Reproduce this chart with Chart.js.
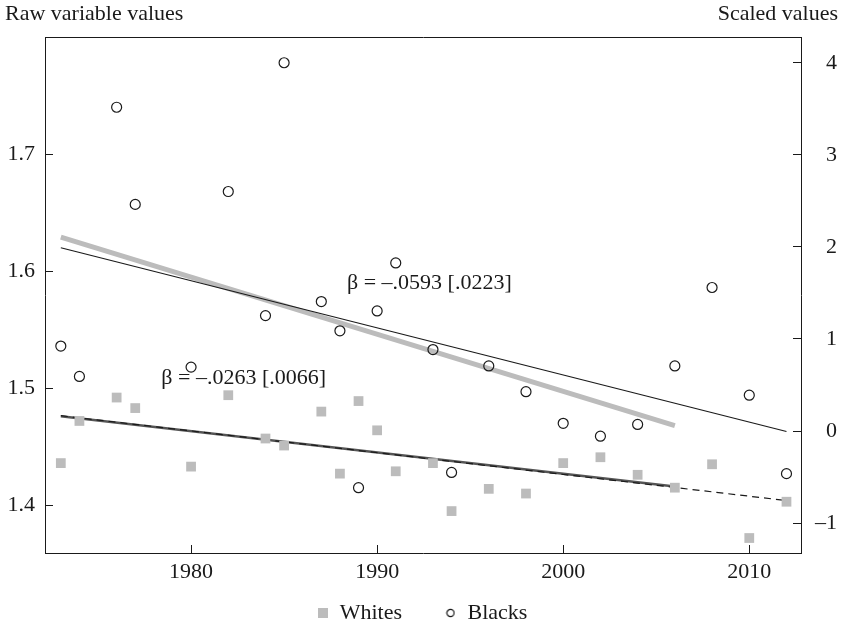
<!DOCTYPE html>
<html>
<head>
<meta charset="utf-8">
<title>Raw variable values</title>
<script src="https://cdn.jsdelivr.net/npm/chart.js@4.4.1/dist/chart.umd.min.js"></script>
<style>
  body { margin: 0; background: #fff; }
  canvas { display: block; }
</style>
</head>
<body>
<canvas id="chart" width="843" height="625"></canvas>
<script>
'use strict';

// survey years, same for both groups
var surveyYears = [1973, 1974, 1976, 1977, 1980, 1982, 1984, 1985, 1987, 1988, 1989, 1990,
    1991, 1993, 1994, 1996, 1998, 2000, 2002, 2004, 2006, 2008, 2010, 2012];
var whiteValues = [1.436, 1.472, 1.492, 1.483, 1.433, 1.494, 1.457, 1.451, 1.480, 1.427, 1.489, 1.464,
    1.429, 1.436, 1.395, 1.414, 1.410, 1.436, 1.441, 1.426, 1.415, 1.435, 1.372, 1.403];
var blackValues = [1.536, 1.510, 1.740, 1.657, 1.518, 1.668, 1.562, 1.778, 1.574, 1.549, 1.415, 1.566,
    1.607, 1.533, 1.428, 1.519, 1.497, 1.470, 1.459, 1.469, 1.519, 1.586, 1.494, 1.427];

// fitted lines (end points)
var shortFitYears = [1973, 2006];
var fullFitYears = [1973, 2012];
var blackFitShort = [1.629, 1.468];
var blackFitFull = [1.620, 1.463];
var whiteFitShort = [1.476, 1.416];
var whiteFitFull = [1.4765, 1.404];

var seriesNames = ['Whites', 'Blacks'];
var betaLabels = ['β = –.0263 [.0066]', 'β = –.0593 [.0223]'];

var yearTicks = [1980, 1990, 2000, 2010];
var rawTicks = [1.4, 1.5, 1.6, 1.7];
var scaledTicks = [-1, 0, 1, 2, 3, 4];

var FONT = '"Liberation Serif", "Times New Roman", serif';
var INK = '#1a1a1a';
var LIGHT = '#bcbcbc';

function pts(xs, ys) {
    return xs.map(function (x, i) { return { x: x, y: ys[i] }; });
}

function fixedTicks(list) {
    return function (scale) {
        scale.ticks = list.map(function (v) { return { value: v }; });
    };
}

function fitLine(xs, ys, color, width, dash) {
    return {
        type: 'line',
        data: pts(xs, ys),
        borderColor: color,
        borderWidth: width,
        borderDash: dash || [],
        pointRadius: 0,
        fill: false,
        yAxisID: 'y'
    };
}

// legend icons (different sizes for square and circle)
function makeIcon(kind) {
    var c = document.createElement('canvas');
    c.width = 10;
    c.height = 10;
    var g = c.getContext('2d');
    if (kind === 'rect') {
        g.fillStyle = LIGHT;
        g.fillRect(0, 0, 10, 10);
    } else {
        g.strokeStyle = INK;
        g.lineWidth = 1.2;
        g.beginPath();
        g.arc(5, 5, 3.6, 0, Math.PI * 2);
        g.stroke();
    }
    return c;
}
var legendIcons = [makeIcon('rect'), makeIcon('circle')];

var axisGrid = { drawOnChartArea: false, tickLength: -8, color: INK, tickWidth: 1 };
var axisBorder = { display: true, color: INK, width: 1 };
var tickFont = { family: FONT, size: 22 };

var textPlugin = {
    id: 'texts',
    afterDatasetsDraw: function (chart) {
        var ctx = chart.ctx;
        var x = chart.scales.x, y = chart.scales.y;
        ctx.save();
        ctx.font = '22px ' + FONT;
        ctx.fillStyle = INK;
        ctx.textBaseline = 'middle';
        ctx.textAlign = 'left';
        ctx.fillText(betaLabels[0], x.getPixelForValue(1978.4), y.getPixelForValue(1.5083));
        ctx.fillText(betaLabels[1], x.getPixelForValue(1988.38), y.getPixelForValue(1.5897));
        ctx.fillText('Raw variable values', 5, 14);
        ctx.textAlign = 'right';
        ctx.fillText('Scaled values', 838, 14);
        ctx.restore();
    }
};

new Chart(document.getElementById('chart'), {
    type: 'scatter',
    data: {
        datasets: [
            {
                label: seriesNames[0],
                data: pts(surveyYears, whiteValues),
                pointStyle: 'rect',
                pointRadius: 6.9,
                backgroundColor: LIGHT,
                borderWidth: 0,
                yAxisID: 'y'
            },
            {
                label: seriesNames[1],
                data: pts(surveyYears, blackValues),
                pointStyle: 'circle',
                pointRadius: 5,
                backgroundColor: 'rgba(0,0,0,0)',
                borderColor: INK,
                borderWidth: 1.2,
                yAxisID: 'y'
            },
            fitLine(fullFitYears, whiteFitFull, INK, 1.2, [7, 5]),
            fitLine(shortFitYears, whiteFitShort, '#555555', 2.6),
            fitLine(fullFitYears, blackFitFull, INK, 1.2),
            fitLine(shortFitYears, blackFitShort, LIGHT, 5)
        ]
    },
    options: {
        responsive: false,
        animation: false,
        events: [],
        layout: { padding: { top: 37, right: 6, bottom: -9, left: 7 } },
        scales: {
            x: {
                type: 'linear',
                position: 'bottom',
                min: 1972.15,
                max: 2012.78,
                afterBuildTicks: fixedTicks(yearTicks),
                afterFit: function (s) { s.height = 45; },
                grid: axisGrid,
                border: axisBorder,
                ticks: {
                    font: tickFont,
                    color: INK,
                    padding: 14.5,
                    maxRotation: 0,
                    autoSkip: false,
                    callback: function (v) { return String(v); }
                }
            },
            xTop: {
                type: 'linear',
                position: 'top',
                min: 1972.15,
                max: 2012.78,
                afterFit: function (s) { s.height = 0; },
                grid: { display: false },
                border: axisBorder,
                ticks: { display: false }
            },
            y: {
                type: 'linear',
                position: 'left',
                min: 1.3592,
                max: 1.8,
                afterBuildTicks: fixedTicks(rawTicks),
                afterFit: function (s) { s.width = 38; },
                grid: axisGrid,
                border: axisBorder,
                ticks: {
                    font: tickFont,
                    color: INK,
                    padding: 18,
                    callback: function (v) { return v.toFixed(1); }
                }
            },
            y2: {
                type: 'linear',
                position: 'right',
                min: -1.325,
                max: 4.28,
                afterBuildTicks: fixedTicks(scaledTicks),
                afterFit: function (s) { s.width = 36; },
                grid: axisGrid,
                border: axisBorder,
                ticks: {
                    font: tickFont,
                    color: INK,
                    padding: 18,
                    crossAlign: 'far',
                    callback: function (v) { return v < 0 ? '–' + Math.abs(v) : String(v); }
                }
            }
        },
        plugins: {
            tooltip: { enabled: false },
            legend: {
                position: 'bottom',
                labels: {
                    usePointStyle: true,
                    boxWidth: 12,
                    boxHeight: 10,
                    padding: 4,
                    color: INK,
                    font: { family: FONT, size: 22 },
                    generateLabels: function (chart) {
                        var items = Chart.defaults.plugins.legend.labels.generateLabels(chart);
                        return items.filter(function (it) { return it.datasetIndex < 2; })
                            .map(function (it, i) {
                                it.pointStyle = legendIcons[i];
                                // trailing spaces keep the gap between the two entries
                                if (i === 0) it.text = it.text + '       ';
                                return it;
                            });
                    }
                }
            }
        }
    },
    plugins: [textPlugin]
});
</script>
</body>
</html>
